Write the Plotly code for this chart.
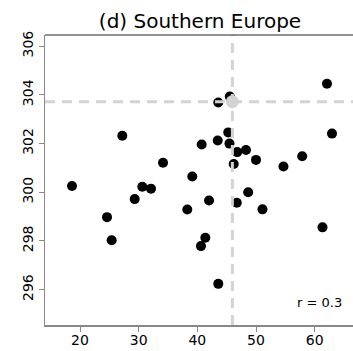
import plotly.graph_objects as go

title_text = "(d) Southern Europe"

x_values = [18.64, 24.60, 25.40, 27.21, 29.32, 30.62, 32.10, 34.15, 38.29, 39.14,
            40.74, 40.62, 41.36, 41.99, 43.47, 43.57, 43.57, 45.27, 45.48, 45.53,
            46.20, 46.72, 46.79, 48.29, 48.67, 50.00, 51.10, 54.68, 57.87, 61.33,
            62.10, 62.95]
y_values = [300.26, 298.98, 298.03, 302.32, 299.72, 300.23, 300.15, 301.21, 299.29, 300.65,
            301.96, 297.79, 298.13, 299.66, 302.13, 303.69, 296.24, 302.46, 302.00, 303.93,
            301.16, 299.57, 301.65, 301.74, 300.00, 301.33, 299.30, 301.06, 301.48, 298.56,
            304.46, 302.41]

mean_x = 45.97
mean_y = 303.72
r_value = 0.3

x_ticks = [20, 30, 40, 50, 60]
y_ticks = [296, 298, 300, 302, 304, 306]

FONT = "DejaVu Sans, Verdana, sans-serif"
GRAY = "#d3d3d3"

fig = go.Figure()
fig.add_trace(go.Scatter(
    x=x_values, y=y_values, mode="markers",
    marker=dict(color="black", size=10, line=dict(width=0)),
    hoverinfo="skip", showlegend=False))
fig.add_trace(go.Scatter(
    x=[mean_x], y=[mean_y], mode="markers",
    marker=dict(color=GRAY, size=13, line=dict(width=0)),
    hoverinfo="skip", showlegend=False))

# dashed mean lines (above the points)
fig.add_shape(type="line", xref="x", yref="paper", x0=mean_x, x1=mean_x, y0=0, y1=1,
              line=dict(color=GRAY, width=3, dash="10px,7px"), layer="above")
fig.add_shape(type="line", xref="paper", yref="y", x0=0, x1=1, y0=mean_y, y1=mean_y,
              line=dict(color=GRAY, width=3, dash="10px,7px"), layer="above")
# top border of the plot box
fig.add_shape(type="line", xref="paper", yref="paper", x0=0, x1=1, y0=1, y1=1,
              line=dict(color="#222222", width=1), layer="above")

fig.add_annotation(text=f"r = {r_value}", xref="paper", yref="paper",
                   x=0.971, y=0.079, xanchor="right", yanchor="middle",
                   showarrow=False, font=dict(family=FONT, size=13, color="black"))

fig.update_layout(
    width=353, height=351,
    margin=dict(l=45, r=0, t=35, b=26),
    paper_bgcolor="white", plot_bgcolor="white",
    font=dict(family=FONT, size=14, color="black"),
    title=dict(text=title_text, xref="container", yref="container",
               x=200 / 353, y=1 - 21 / 351, xanchor="center", yanchor="middle",
               font=dict(family=FONT, size=20, color="black")),
    showlegend=False,
)
fig.update_xaxes(range=[14.035, 66.53], tickvals=x_ticks, ticktext=[str(v) for v in x_ticks],
                 showgrid=False, zeroline=False, showline=True, linecolor="#888888", linewidth=1.5,
                 ticks="outside", ticklen=5, tickcolor="#888888", tickwidth=1,
                 ticklabelstandoff=-3,
                 tickfont=dict(family=FONT, size=14, color="black"))
fig.update_yaxes(range=[294.55, 306.46], tickvals=y_ticks, ticktext=[str(v) for v in y_ticks],
                 showgrid=False, zeroline=False, showline=True, linecolor="#888888", linewidth=1.5,
                 ticks="outside", ticklen=5, tickcolor="#888888", tickwidth=1, tickangle=-90,
                 tickfont=dict(family=FONT, size=14, color="black"))

fig.write_html("out.html", config={"displayModeBar": False, "staticPlot": True})

# remove the browser's default page margin so the figure sits at the top-left corner
with open("out.html", "r", encoding="utf-8") as f:
    html = f.read()
html = html.replace("<head>", "<head><style>html,body{margin:0;padding:0;overflow:hidden;}</style>", 1)
with open("out.html", "w", encoding="utf-8") as f:
    f.write(html)
